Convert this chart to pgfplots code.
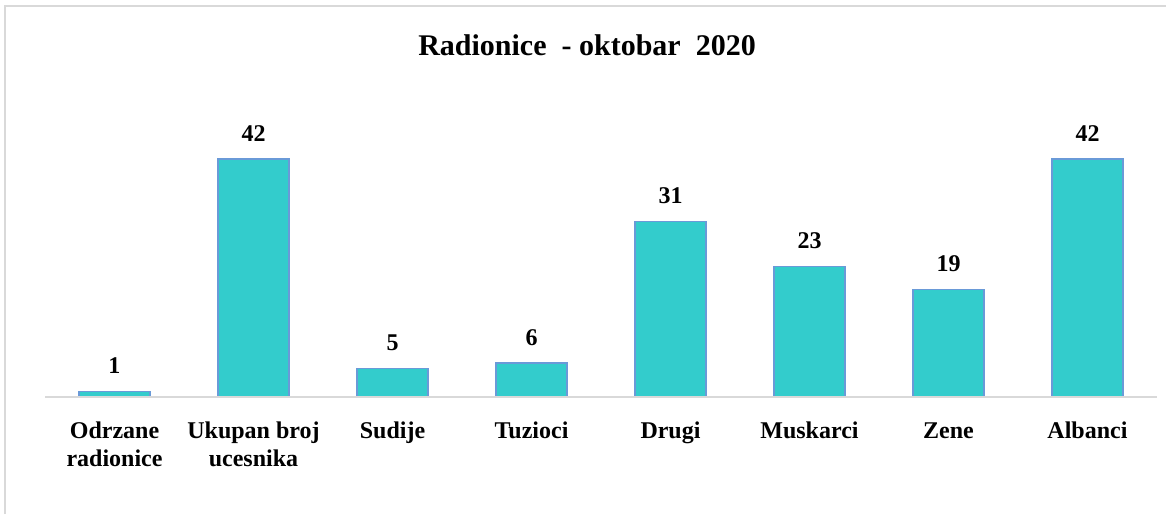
\documentclass[border=0pt]{standalone}
\usepackage{fontspec}
\setmainfont{Liberation Serif}
\usepackage{pgfplots}
\pgfplotsset{compat=1.18}
\definecolor{barfill}{HTML}{33CCCC}
\definecolor{baredge}{HTML}{6A9AD8}
\definecolor{framegray}{HTML}{D9D9D9}

\begin{document}
\begin{tikzpicture}
\path[use as bounding box] (0,0) rectangle (583pt,257pt);
\draw[framegray,line width=1pt] (2.5pt,0) -- (2.5pt,254pt) -- (583pt,254pt);
\node[font=\fontsize{15}{18}\selectfont\bfseries] at (293.5pt,234.5pt) {Radionice\ \ - oktobar\ \ 2020};
\begin{axis}[
  at={(22.5pt,58.5pt)},anchor=south west,
  scale only axis,width=556pt,height=141.7pt,
  xmin=-0.5,xmax=7.5,ymin=0,ymax=50,
  axis line style={draw=none},
  ytick=\empty,
  xtick={0,1,2,3,4,5,6,7},
  xticklabels={{\strut Odrzane\\radionice},{\strut Ukupan broj\\ucesnika},\strut Sudije,\strut Tuzioci,\strut Drugi,\strut Muskarci,\strut Zene,\strut Albanci},
  major tick length=0pt,
  xticklabel style={font=\fontsize{12}{14}\selectfont\bfseries,align=center,inner sep=0pt,anchor=north,yshift=-10.9pt},
  /pgf/number format/assume math mode=true,
  nodes near coords={\pgfmathprintnumber{\pgfplotspointmeta}},
  every node near coord/.append style={font=\fontsize{12}{14}\selectfont\bfseries,inner sep=0pt,anchor=south,yshift=8.5pt},
  clip=false,
]
\addplot[ybar,bar width=35.5pt,fill=barfill,draw=baredge,line width=0.6pt] coordinates {(0,1) (1,42) (2,5) (3,6) (4,31) (5,23) (6,19) (7,42)};
\draw[framegray,line width=0.8pt] (axis cs:-0.5,0) -- (axis cs:7.5,0);
\end{axis}
\end{tikzpicture}
\end{document}
